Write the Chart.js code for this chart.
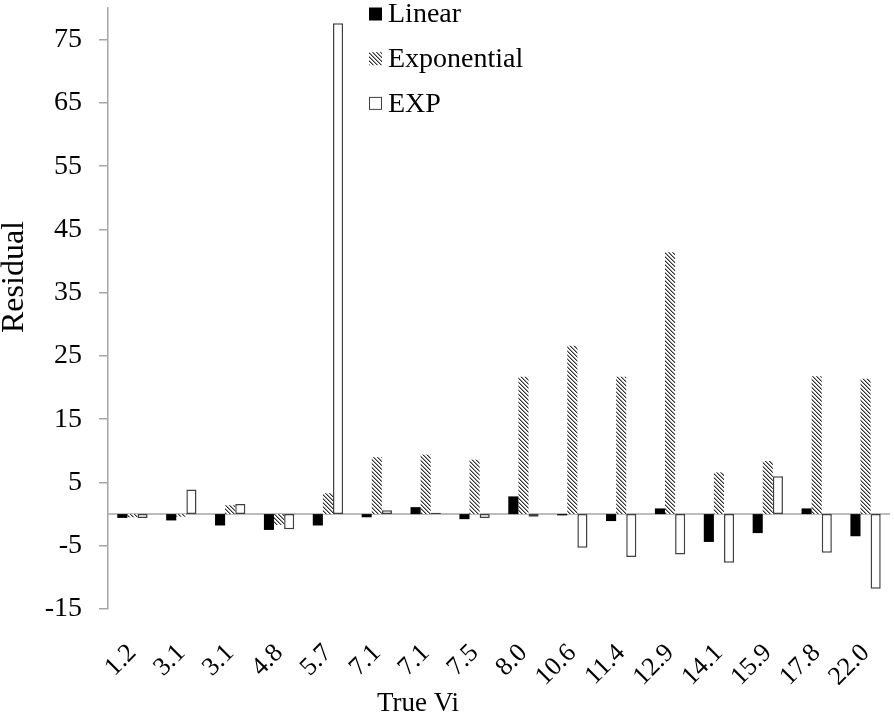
<!DOCTYPE html>
<html>
<head>
<meta charset="utf-8">
<title>Residual by True Vi</title>
<script src="https://cdn.jsdelivr.net/npm/chart.js@4.4.0/dist/chart.umd.min.js"></script>
<style>
  html, body { margin: 0; padding: 0; background: #fff; }
  #wrap { width: 894px; height: 717px; }
</style>
</head>
<body>
<div id="wrap"><canvas id="chart" width="894" height="717"></canvas></div>
<script>
// category labels (True Vi)
const categories = ['1.2', '3.1', '3.1', '4.8', '5.7', '7.1', '7.1', '7.5', '8.0', '10.6', '11.4', '12.9', '14.1', '15.9', '17.8', '22.0'];

// residuals
const linearVals = [-0.6, -1.0, -1.8, -2.5, -1.8, -0.5, 1.1, -0.8, 2.8, -0.2, -1.1, 0.9, -4.4, -3.0, 0.9, -3.5];
const exponentialVals = [-0.5, -0.4, 1.4, -1.7, 3.3, 9.0, 9.4, 8.6, 21.7, 26.6, 21.7, 41.4, 6.6, 8.4, 21.8, 21.4];
const expVals = [-0.6, 3.9, 1.6, -2.4, 77.6, 0.6, 0.2, -0.6, -0.4, -5.3, -6.8, -6.4, -7.7, 6.0, -6.1, -11.8];

// y axis tick labels
const yTicks = [-15, -5, 5, 15, 25, 35, 45, 55, 65, 75];

const SERIF = '"Liberation Serif", "Times New Roman", serif';
const AXIS_GREY = '#a6a6a6';

// diagonal hatch like the Excel pattern fill
function makeHatch() {
  const c = document.createElement('canvas');
  c.width = 4;
  c.height = 4;
  const g = c.getContext('2d');
  g.fillStyle = '#fff';
  g.fillRect(0, 0, 4, 4);
  for (let i = 0; i < 4; i++) {
    g.fillStyle = '#333';
    g.fillRect(i, i, 1, 1);
    g.fillStyle = '#999';
    g.fillRect((i + 1) % 4, i, 1, 1);
  }
  return g.createPattern(c, 'repeat');
}

// zero line across the plot
const zeroLine = {
  id: 'zeroLine',
  beforeDatasetsDraw(chart) {
    const { ctx, chartArea, scales } = chart;
    const y = scales.y.getPixelForValue(0);
    ctx.save();
    ctx.strokeStyle = AXIS_GREY;
    ctx.lineWidth = 1.5;
    ctx.beginPath();
    ctx.moveTo(chartArea.left, y);
    ctx.lineTo(chartArea.right, y);
    ctx.stroke();
    ctx.restore();
  }
};

// stacked legend at the top + axis titles
const stackedLegend = {
  id: 'stackedLegend',
  afterDraw(chart) {
    const ctx = chart.ctx;
    const x0 = 369, y0 = 14, step = 44.7, box = 13;
    ctx.save();
    ctx.font = '28px ' + SERIF;
    ctx.textBaseline = 'middle';
    chart.data.datasets.forEach((ds, i) => {
      const cy = y0 + i * step;
      ctx.fillStyle = ds.backgroundColor;
      ctx.fillRect(x0, cy - box / 2, box, box);
      if (ds.borderWidth) {
        ctx.strokeStyle = ds.borderColor;
        ctx.lineWidth = 1;
        ctx.strokeRect(x0 + 0.5, cy - box / 2 + 0.5, box - 1, box - 1);
      }
      ctx.fillStyle = '#000';
      ctx.fillText(ds.label, x0 + box + 6, cy + 1);
    });

    // x axis title
    ctx.textAlign = 'center';
    ctx.font = '27px ' + SERIF;
    ctx.fillText('True Vi', 418, 704);

    // y axis title
    ctx.translate(15, 277);
    ctx.rotate(-Math.PI / 2);
    ctx.font = '32px ' + SERIF;
    ctx.fillText('Residual', 0, 0);
    ctx.restore();
  }
};

document.addEventListener('DOMContentLoaded', function() {
  const ctx = document.getElementById('chart').getContext('2d');
  const hatch = makeHatch();

  new Chart(ctx, {
    type: 'bar',
    data: {
      labels: categories,
      datasets: [
        {
          label: 'Linear',
          data: linearVals,
          backgroundColor: '#000',
          borderWidth: 0
        },
        {
          label: 'Exponential',
          data: exponentialVals,
          backgroundColor: hatch,
          borderWidth: 0
        },
        {
          label: 'EXP',
          data: expVals,
          backgroundColor: '#fff',
          borderColor: '#404040',
          borderWidth: 1.5,
          borderSkipped: false
        }
      ]
    },
    options: {
      responsive: false,
      animation: false,
      layout: { padding: { top: 8, right: 4, left: 0, bottom: 0 } },
      datasets: {
        bar: { categoryPercentage: 0.62, barPercentage: 1.0 }
      },
      plugins: {
        legend: { display: false },
        tooltip: { enabled: false }
      },
      scales: {
        x: {
          grid: { display: false },
          border: { display: false },
          ticks: {
            autoSkip: false,
            minRotation: 45,
            maxRotation: 45,
            padding: 21,
            color: '#000',
            font: { family: SERIF, size: 26 }
          },
          afterFit(scale) {
            scale.height = 108;
            scale.paddingLeft = 0;
            scale.paddingRight = 0;
          }
        },
        y: {
          min: -15,
          max: 80,
          afterBuildTicks(scale) {
            scale.ticks = yTicks.map(v => ({ value: v }));
          },
          grid: {
            drawOnChartArea: false,
            drawTicks: true,
            tickLength: 9,
            tickColor: AXIS_GREY,
            lineWidth: 1.5
          },
          border: { display: true, color: AXIS_GREY, width: 1.5 },
          ticks: {
            padding: 17,
            color: '#000',
            font: { family: SERIF, size: 28 }
          },
          afterFit(scale) {
            scale.width = 108;
            scale.paddingTop = 0;
            scale.paddingBottom = 0;
          }
        }
      }
    },
    plugins: [zeroLine, stackedLegend]
  });
});
</script>
</body>
</html>
